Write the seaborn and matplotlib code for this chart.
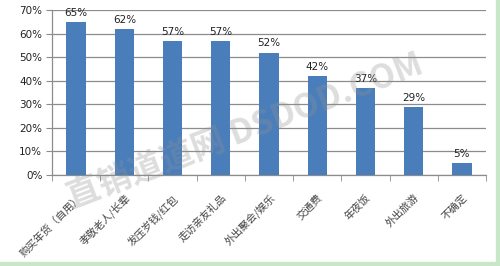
import matplotlib
matplotlib.use("Agg")
import matplotlib.pyplot as plt
import seaborn as sns
import pandas as pd
from matplotlib.patches import Rectangle

categories = ["购买年货（自用）", "孝敬老人/长辈", "发压岁钱/红包", "走访亲友礼品",
              "外出聚会/娱乐", "交通费", "年夜饭", "外出旅游", "不确定"]
values = [65, 62, 57, 57, 52, 42, 37, 29, 5]
y_ticks = [0, 10, 20, 30, 40, 50, 60, 70]

sns.set_style("white")
plt.rcParams['font.family'] = ['DejaVu Sans', 'Noto Sans CJK SC']

df = pd.DataFrame({"cat": categories, "val": values})

fig = plt.figure(figsize=(5.0, 2.66), dpi=100)
ax = fig.add_axes([0.104, 0.342, 0.868, 0.620])

sns.barplot(data=df, x="cat", y="val", color="#4a7ebb", saturation=1, width=0.4,
            edgecolor="none", ax=ax, zorder=3)

ax.set_ylim(0, 70)
ax.set_xlim(-0.5, len(categories) - 0.5)
ax.set_yticks(y_ticks)
ax.set_yticklabels([f"{t}%" for t in y_ticks], fontsize=7.5, color="#222222")
ax.yaxis.grid(True, color="#8c8c8c", linewidth=0.9, zorder=0)
ax.set_axisbelow(True)
ax.set_xlabel("")
ax.set_ylabel("")

for s in ["top", "right"]:
    ax.spines[s].set_visible(False)
for s in ["left", "bottom"]:
    ax.spines[s].set_color("#8c8c8c")
    ax.spines[s].set_linewidth(0.9)

ax.tick_params(axis="y", left=True, direction="out", length=4, color="#8c8c8c", pad=3)
ax.set_xticks(range(len(categories)))
ax.set_xticklabels(categories, rotation=45, ha="right", va="top", rotation_mode="anchor",
                   fontsize=7.5, color="#444444", family=['Noto Sans CJK SC', 'DejaVu Sans'])
ax.tick_params(axis="x", bottom=False, pad=9)
ax.set_xticks([i + 0.5 for i in range(-1, len(categories))], minor=True)
ax.tick_params(axis="x", which="minor", bottom=True, direction="out", length=4, color="#8c8c8c")

for c in ax.containers:
    ax.bar_label(c, labels=[f"{v}%" for v in values], padding=3, fontsize=7.5, color="#222222")

fig.text(0.49, 0.505, "直销道道网 DSDOD.COM", rotation=21, ha="center", va="center",
         fontsize=24, fontweight="bold", color="#909090", alpha=0.3,
         family=['Noto Sans CJK SC', 'DejaVu Sans'], zorder=10)

fig.patches.append(Rectangle((0.992, 0), 0.008, 1, transform=fig.transFigure,
                             color="#c8e6c8", zorder=0))
fig.patches.append(Rectangle((0, 0), 1, 0.015, transform=fig.transFigure,
                             color="#c8e6c8", zorder=0))

fig.savefig("out.png", dpi=100)
